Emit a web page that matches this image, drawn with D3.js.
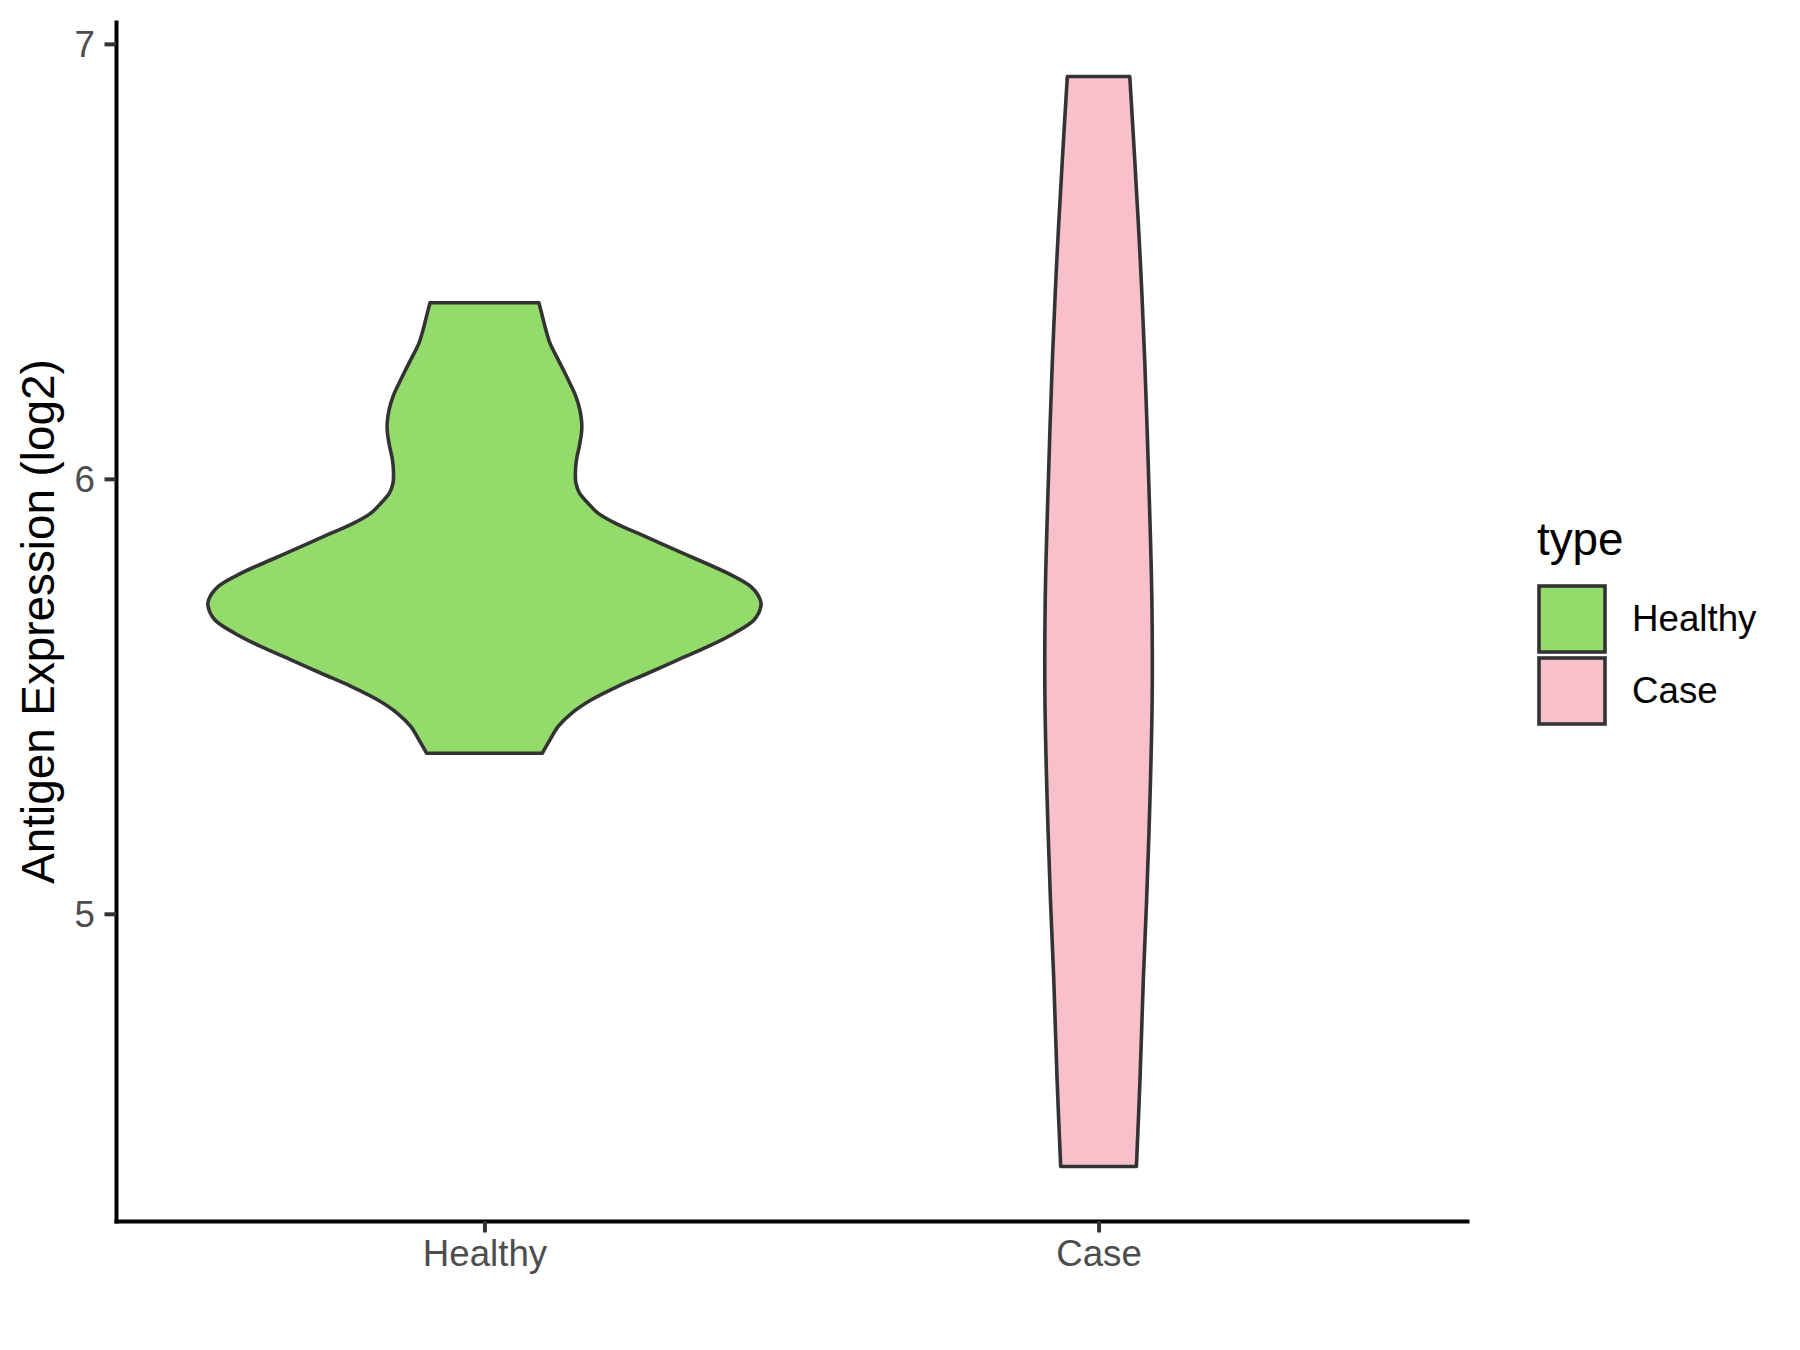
<!DOCTYPE html>
<html>
<head>
<meta charset="utf-8">
<script src="https://d3js.org/d3.v7.min.js"></script>
<style>
  body { margin: 0; background: #fff; }
  svg { font-family: "Liberation Sans", Arial, sans-serif; }
</style>
</head>
<body>
<svg id="chart" width="1800" height="1350"></svg>
<script>
// categories and colours
var categories = ["Healthy", "Case"];
var fills = ["#93DB6B", "#F7C0CB"];

// violin outlines: value (log2) and relative half width
var healthyValues = [6.405, 6.373, 6.343, 6.312, 6.281, 6.251, 6.220, 6.189, 6.159, 6.128, 6.105, 6.074, 6.044, 6.013, 5.990, 5.967, 5.944, 5.921, 5.898, 5.875, 5.844, 5.814, 5.783, 5.752, 5.722, 5.706, 5.676, 5.645, 5.614, 5.584, 5.553, 5.523, 5.492, 5.461, 5.431, 5.400, 5.369];
var healthyDensity = [0.197, 0.210, 0.222, 0.237, 0.261, 0.285, 0.309, 0.331, 0.345, 0.352, 0.351, 0.343, 0.333, 0.329, 0.331, 0.344, 0.375, 0.411, 0.473, 0.555, 0.664, 0.772, 0.880, 0.964, 0.998, 1.000, 0.976, 0.904, 0.808, 0.700, 0.591, 0.483, 0.387, 0.315, 0.267, 0.237, 0.209];

var caseValues = [6.925, 6.733, 6.503, 6.274, 5.968, 5.722, 5.492, 5.262, 5.032, 4.848, 4.618, 4.419];
var caseDensity = [0.113, 0.131, 0.151, 0.167, 0.183, 0.193, 0.194, 0.186, 0.174, 0.162, 0.150, 0.137];

var yTicks = [5, 6, 7];

var allValues = [healthyValues, caseValues];
var allDensity = [healthyDensity, caseDensity];

var panelLeft = 116, panelRight = 1467, panelTop = 22, panelBottom = 1221;
var svg = d3.select("#chart");

// y scale: data range with 5% expansion like ggplot
var ext = d3.extent(healthyValues.concat(caseValues));
var pad = (ext[1] - ext[0]) * 0.05;
var y = d3.scaleLinear().domain([ext[0] - pad, ext[1] + pad]).range([panelBottom, panelTop]);

var x = d3.scalePoint().domain(categories).range([panelLeft, panelRight]).padding(0.6);
var w = d3.scaleLinear().domain([0, 1]).range([0, 0.45 * x.step()]);

// violins
categories.forEach(function(c, i) {
  var pts = allValues[i].map(function(v, j) { return {v: v, d: allDensity[i][j]}; });
  var area = d3.area()
    .y(function(p) { return y(p.v); })
    .x0(function(p) { return x(c) - w(p.d); })
    .x1(function(p) { return x(c) + w(p.d); })
    .curve(d3.curveCatmullRom);
  svg.append("path")
    .datum(pts)
    .attr("d", area)
    .attr("fill", fills[i])
    .attr("stroke", "#333333")
    .attr("stroke-width", 3.6)
    .attr("stroke-linejoin", "round");
});

// axes
var yAxis = d3.axisLeft(y).tickValues(yTicks).tickFormat(d3.format("d")).tickSize(11.5).tickSizeOuter(0).tickPadding(9);
var gy = svg.append("g").attr("transform", "translate(" + panelLeft + ",0)").call(yAxis);
var xAxis = d3.axisBottom(x).tickSize(11.5).tickSizeOuter(0).tickPadding(9);
var gx = svg.append("g").attr("transform", "translate(0," + panelBottom + ")").call(xAxis);

[gy, gx].forEach(function(g) {
  g.select(".domain").attr("stroke", "#000").attr("stroke-width", 4).attr("stroke-linecap", "square");
  g.selectAll(".tick line").attr("stroke", "#333333").attr("stroke-width", 4);
  g.selectAll(".tick text").attr("fill", "#4D4D4D").style("font-size", "36.7px").style("font-family", "Liberation Sans, Arial, sans-serif");
});
gx.selectAll(".tick text").attr("dy", null).attr("y", 45);
gy.selectAll(".tick text").attr("dy", "0.35em").attr("x", -21);

// y title
svg.append("text")
  .attr("transform", "translate(54," + ((panelTop + panelBottom) / 2) + ") rotate(-90)")
  .attr("text-anchor", "middle")
  .style("font-size", "45.8px")
  .attr("fill", "#000")
  .text("Antigen Expression (log2)");

// legend
var lg = svg.append("g").attr("transform", "translate(1537,0)");
lg.append("text").attr("x", 0).attr("y", 555).style("font-size", "45.8px").attr("fill", "#000").text("type");
categories.forEach(function(c, i) {
  var cy = 584 + i * 72;
  lg.append("rect")
    .attr("x", 2).attr("y", cy + 2)
    .attr("width", 66).attr("height", 66)
    .attr("fill", fills[i])
    .attr("stroke", "#333333")
    .attr("stroke-width", 3.6);
  lg.append("text")
    .attr("x", 95).attr("y", cy + 36 + 11)
    .style("font-size", "36.7px")
    .attr("fill", "#000")
    .text(c);
});
</script>
</body>
</html>
